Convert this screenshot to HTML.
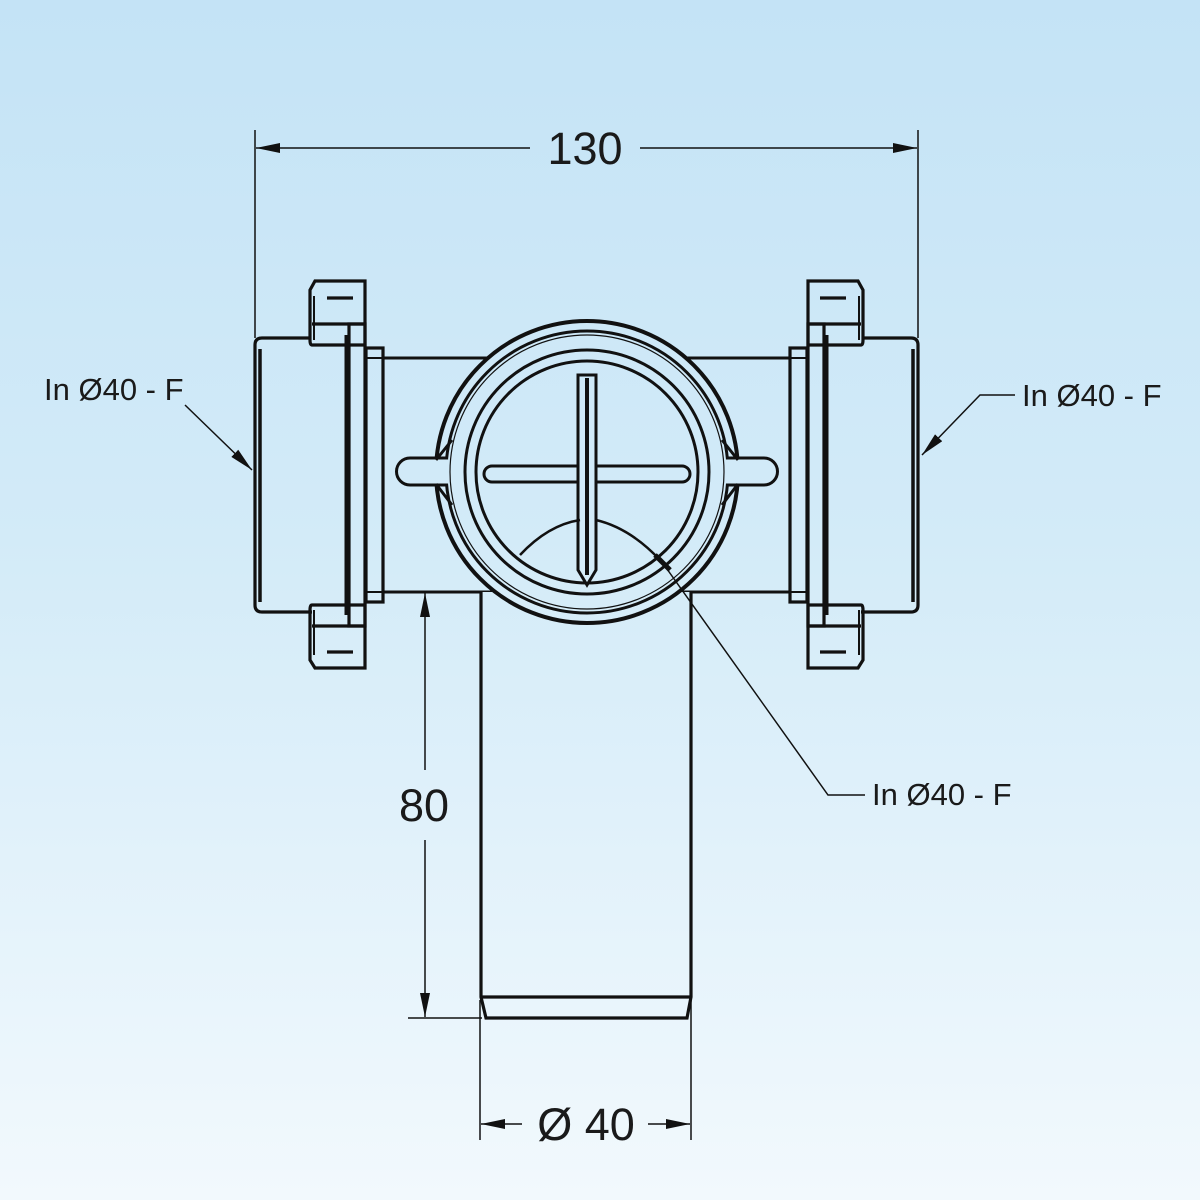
<!DOCTYPE html>
<html><head><meta charset="utf-8"><style>
html,body{margin:0;padding:0;width:1200px;height:1200px;overflow:hidden}
body{background:#d5ebf8}
svg{position:absolute;left:0;top:0}
text{font-family:"Liberation Sans",sans-serif;fill:#1a1a1a}
</style></head><body>
<svg width="1200" height="1200" viewBox="0 0 1200 1200">
<defs>
<linearGradient id="bg" gradientUnits="userSpaceOnUse" x1="0" y1="0" x2="0" y2="1200">
<stop offset="0" stop-color="#c4e3f6"/><stop offset="0.45" stop-color="#d3ebf8"/><stop offset="1" stop-color="#f2f9fd"/></linearGradient>
<marker id="ar" viewBox="0 0 24 10" refX="24" refY="5" markerWidth="24" markerHeight="10" markerUnits="userSpaceOnUse" orient="auto"><path d="M0,0 L24,5 L0,10 z" fill="#111"/></marker>
<g id="half" fill="none" stroke="#111" stroke-width="3.2">
  <path d="M262,338 H312 V612 H262 Q255,612 255,605 V345 Q255,338 262,338 Z" fill="url(#bg)" stroke="none"/>
  <path d="M310,338 H262 Q255,338 255,345 V605 Q255,612 262,612 H312"/>
  <line x1="260" y1="349" x2="260" y2="602" stroke-width="3.5"/>
  <path d="M315,281 H365 V345 H312 Q310,345 310,340 V290 Z"/>
  <line x1="314" y1="296" x2="314" y2="340" stroke-width="2"/>
  <line x1="312" y1="324" x2="365" y2="324"/>
  <line x1="327" y1="298" x2="353" y2="298"/>
  <path d="M315,668 H365 V605 H312 Q310,605 310,610 V660 Z"/>
  <line x1="314" y1="610" x2="314" y2="655" stroke-width="2"/>
  <line x1="312" y1="626" x2="365" y2="626"/>
  <line x1="327" y1="652" x2="353" y2="652"/>
  <rect x="349" y="324" width="16" height="302"/>
  <line x1="347" y1="335" x2="347" y2="615" stroke-width="5"/>
  <rect x="366" y="348" width="17" height="254"/>
  <line x1="366" y1="358" x2="383" y2="358" stroke-width="2"/>
  <line x1="366" y1="592" x2="383" y2="592" stroke-width="2"/>
</g>
</defs>
<rect width="1200" height="1200" fill="url(#bg)"/>
<rect x="383" y="358" width="407" height="234" fill="url(#bg)" stroke="#111" stroke-width="3"/>
<use href="#half"/>
<use href="#half" transform="translate(1173,0) scale(-1,1)"/>
<path d="M481,592 V997 L486,1018 H687 L691,997 V592" fill="url(#bg)" stroke="#111" stroke-width="3.2"/>
<line x1="481" y1="997" x2="691" y2="997" stroke="#111" stroke-width="3.2"/>
<g fill="none" stroke="#111">
  <circle cx="587" cy="472" r="151" fill="url(#bg)" stroke-width="4"/>
  <circle cx="587" cy="472" r="141" stroke-width="3"/>
  <circle cx="587" cy="472" r="137" stroke-width="1.2"/>
  <circle cx="587" cy="472" r="122" stroke-width="3"/>
  <circle cx="587" cy="472" r="111" stroke-width="3"/>
  <path d="M448,458 H410 A12,12 0 0 0 410,485 H448" fill="url(#bg)" stroke-width="3"/>
  <path d="M726,458 H764 A12,12 0 0 1 764,485 H726" fill="url(#bg)" stroke-width="3"/>
  <path d="M436,460 L452,440 M436,484 L452,505 M738,460 L722,440 M738,484 L722,505" stroke-width="3"/>
  <rect x="484" y="466" width="206" height="16" rx="8" stroke-width="3"/>
  <path d="M578,375 H596 V570 L587,585 L578,570 Z" fill="url(#bg)" stroke-width="3"/>
  <line x1="587" y1="378" x2="587" y2="575" stroke-width="4"/>
  <path d="M520,555 Q548,525 580,520 M596,520 Q630,528 660,560" stroke-width="2.5"/>
  <line x1="655" y1="555" x2="670" y2="570" stroke-width="5"/>
</g>
<g stroke="#111" stroke-width="1.5" fill="none">
  <line x1="255" y1="130" x2="255" y2="338"/>
  <line x1="918" y1="130" x2="918" y2="338"/>
  <line x1="530" y1="148" x2="256" y2="148" marker-end="url(#ar)"/>
  <line x1="640" y1="148" x2="917" y2="148" marker-end="url(#ar)"/>
  <line x1="425" y1="770" x2="425" y2="593" marker-end="url(#ar)"/>
  <line x1="425" y1="840" x2="425" y2="1017" marker-end="url(#ar)"/>
  <line x1="408" y1="1018" x2="482" y2="1018"/>
  <line x1="480" y1="1000" x2="480" y2="1140"/>
  <line x1="691" y1="1000" x2="691" y2="1140"/>
  <line x1="522" y1="1124" x2="481" y2="1124" marker-end="url(#ar)"/>
  <line x1="648" y1="1124" x2="690" y2="1124" marker-end="url(#ar)"/>
  <path d="M185,405 L252,470" marker-end="url(#ar)"/>
  <path d="M1015,395 H980 L922,455" marker-end="url(#ar)"/>
  <path d="M865,795 H828 L662,562"/>
</g>
<text x="585" y="164" font-size="45" text-anchor="middle">130</text>
<text x="424" y="821" font-size="45" text-anchor="middle">80</text>
<text x="586" y="1140" font-size="45" text-anchor="middle">Ø 40</text>
<text x="44" y="400" font-size="31">In Ø40 - F</text>
<text x="1022" y="406" font-size="31">In Ø40 - F</text>
<text x="872" y="805" font-size="31">In Ø40 - F</text>
</svg>
</body></html>
